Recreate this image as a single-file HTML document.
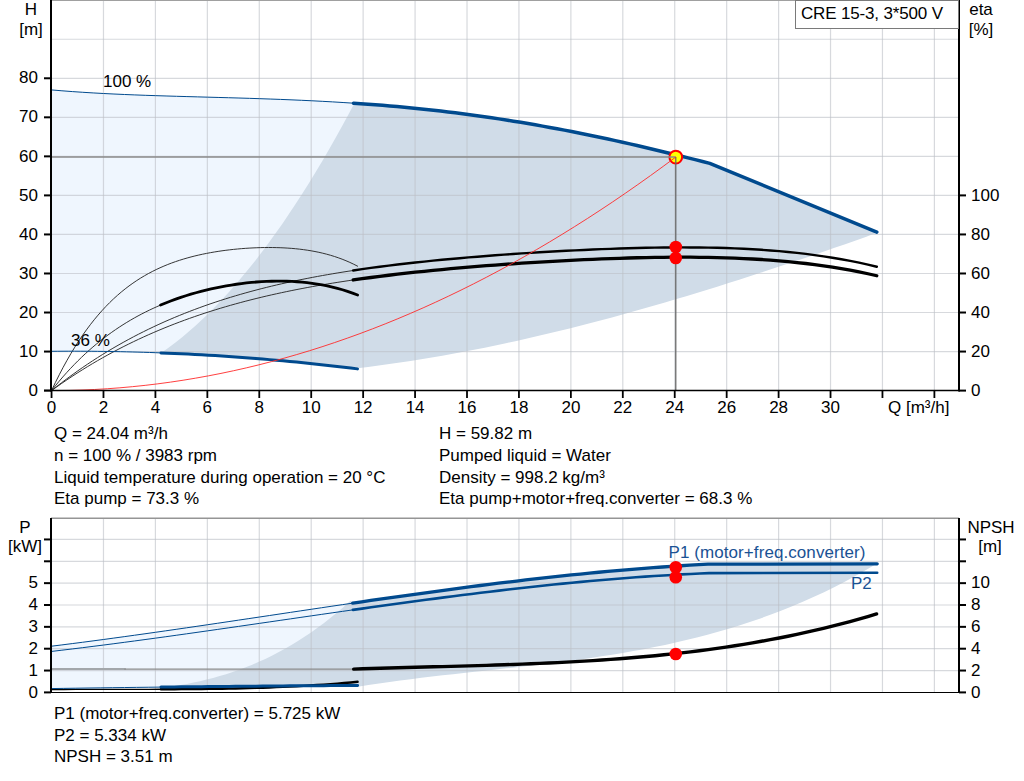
<!DOCTYPE html>
<html><head><meta charset="utf-8"><style>
html,body{margin:0;padding:0;background:#fff;width:1024px;height:781px;overflow:hidden;position:relative}
svg text{font-family:"Liberation Sans",sans-serif}
</style></head><body>
<svg width="1024" height="781" viewBox="0 0 1024 781" style="position:absolute;left:0;top:0"><path d="M51.50,89.91 L61.91,90.79 L72.33,91.58 L82.74,92.29 L93.16,92.93 L103.57,93.50 L113.98,94.02 L124.40,94.49 L134.81,94.91 L145.22,95.30 L155.64,95.65 L166.05,95.98 L176.47,96.29 L186.88,96.59 L197.29,96.87 L207.71,97.16 L218.12,97.44 L228.53,97.73 L238.95,98.03 L249.36,98.34 L259.78,98.68 L270.19,99.04 L280.60,99.42 L291.02,99.84 L301.43,100.29 L311.84,100.78 L322.26,101.32 L332.67,101.89 L343.09,102.52 L353.50,103.19 L357.50,368.87 L349.65,367.91 L341.81,366.97 L333.96,366.07 L326.12,365.19 L318.27,364.33 L310.42,363.51 L302.58,362.71 L294.73,361.94 L286.88,361.19 L279.04,360.47 L271.19,359.78 L263.35,359.11 L255.50,358.48 L247.65,357.86 L239.81,357.28 L231.96,356.72 L224.12,356.19 L216.27,355.69 L208.42,355.21 L200.58,354.76 L192.73,354.34 L184.88,353.94 L177.04,353.57 L169.19,353.23 L161.35,352.91 L153.50,352.62 L145.65,352.36 L137.81,352.12 L129.96,351.91 L122.12,351.73 L114.27,351.58 L106.42,351.45 L98.58,351.35 L90.73,351.27 L82.88,351.23 L75.04,351.21 L67.19,351.21 L59.35,351.24 L51.50,351.30 Z" fill="#eff6fe"/><path d="M353.50,103.19 L360.77,103.69 L368.04,104.22 L375.31,104.78 L382.59,105.36 L389.86,105.97 L397.13,106.61 L404.40,107.28 L411.67,107.98 L418.94,108.72 L426.21,109.48 L433.49,110.27 L440.76,111.10 L448.03,111.96 L455.30,112.85 L462.57,113.77 L469.84,114.73 L477.11,115.71 L484.39,116.74 L491.66,117.79 L498.93,118.88 L506.20,120.00 L513.47,121.16 L520.74,122.34 L528.01,123.56 L535.29,124.82 L542.56,126.10 L549.83,127.42 L557.10,128.77 L564.37,130.15 L571.64,131.56 L578.91,133.00 L586.19,134.47 L593.46,135.98 L600.73,137.51 L608.00,139.06 L615.27,140.65 L622.54,142.26 L629.81,143.90 L637.09,145.56 L644.36,147.25 L651.63,148.96 L658.90,150.69 L666.17,152.45 L673.44,154.22 L680.71,156.02 L687.99,157.83 L695.26,159.66 L702.53,161.50 L709.80,163.36 L876.80,232.20 L877.00,232.50 L866.40,236.77 L855.80,240.49 L845.19,244.19 L834.59,247.86 L823.99,251.51 L813.39,255.13 L802.79,258.73 L792.18,262.30 L781.58,265.84 L770.98,269.35 L760.38,272.82 L749.78,276.26 L739.17,279.67 L728.57,283.04 L717.97,286.38 L707.37,289.67 L696.77,292.93 L686.16,296.14 L675.56,299.32 L664.96,302.44 L654.36,305.53 L643.76,308.56 L633.15,311.55 L622.55,314.49 L611.95,317.38 L601.35,320.21 L590.74,323.00 L580.14,325.73 L569.54,328.40 L558.94,331.02 L548.34,333.58 L537.73,336.08 L527.13,338.52 L516.53,340.90 L505.93,343.21 L495.33,345.46 L484.72,347.64 L474.12,349.76 L463.52,351.80 L452.92,353.78 L442.32,355.68 L431.71,357.52 L421.11,359.28 L410.51,360.96 L399.91,362.57 L389.31,364.10 L378.70,365.55 L368.10,366.92 L357.50,368.21 L357.50,368.87 L347.22,367.61 L336.94,366.41 L326.66,365.25 L316.38,364.13 L306.10,363.06 L295.82,362.04 L285.53,361.06 L275.25,360.13 L264.97,359.25 L254.69,358.41 L244.41,357.62 L234.13,356.87 L223.85,356.17 L213.57,355.52 L203.29,354.91 L193.01,354.35 L182.73,353.83 L172.45,353.37 L162.17,352.94 L162.17,352.27 L168.83,347.52 L175.49,342.48 L182.15,337.17 L188.81,331.58 L195.47,325.71 L202.13,319.57 L208.80,313.14 L215.46,306.44 L222.12,299.46 L228.78,292.20 L235.44,284.67 L242.10,276.85 L248.77,268.76 L255.43,260.39 L262.09,251.74 L268.75,242.82 L275.41,233.61 L282.07,224.13 L288.74,214.37 L295.40,204.33 L302.06,194.02 L308.72,183.42 L315.38,172.55 L322.04,161.40 L328.71,149.97 L335.37,138.27 L342.03,126.28 L348.69,114.02 L355.35,101.48 Z" fill="#d0dce8"/><g stroke="rgba(188,192,198,0.6)" stroke-width="1.2"><line x1="103.48" y1="0" x2="103.48" y2="390" /><line x1="155.41" y1="0" x2="155.41" y2="390" /><line x1="207.35" y1="0" x2="207.35" y2="390" /><line x1="259.28" y1="0" x2="259.28" y2="390" /><line x1="311.21" y1="0" x2="311.21" y2="390" /><line x1="363.14" y1="0" x2="363.14" y2="390" /><line x1="415.07" y1="0" x2="415.07" y2="390" /><line x1="467.01" y1="0" x2="467.01" y2="390" /><line x1="518.94" y1="0" x2="518.94" y2="390" /><line x1="570.87" y1="0" x2="570.87" y2="390" /><line x1="622.80" y1="0" x2="622.80" y2="390" /><line x1="674.73" y1="0" x2="674.73" y2="390" /><line x1="726.67" y1="0" x2="726.67" y2="390" /><line x1="778.60" y1="0" x2="778.60" y2="390" /><line x1="830.53" y1="0" x2="830.53" y2="390" /><line x1="882.46" y1="0" x2="882.46" y2="390" /><line x1="934.39" y1="0" x2="934.39" y2="390" /><line x1="51" y1="351.56" x2="958" y2="351.56" /><line x1="51" y1="312.52" x2="958" y2="312.52" /><line x1="51" y1="273.48" x2="958" y2="273.48" /><line x1="51" y1="234.44" x2="958" y2="234.44" /><line x1="51" y1="195.40" x2="958" y2="195.40" /><line x1="51" y1="156.36" x2="958" y2="156.36" /><line x1="51" y1="117.32" x2="958" y2="117.32" /><line x1="51" y1="78.28" x2="958" y2="78.28" /><line x1="51" y1="39.24" x2="958" y2="39.24" /></g><line x1="51" y1="0.5" x2="959" y2="0.5" stroke="#a0a0a0" stroke-width="1"/><g fill="none" stroke-linecap="round" stroke-linejoin="round"><path d="M51.55,390.60 L55.42,382.46 L59.30,374.69 L63.17,367.30 L67.05,360.25 L70.92,353.55 L74.79,347.18 L78.67,341.12 L82.54,335.36 L86.42,329.90 L90.29,324.72 L94.16,319.80 L98.04,315.15 L101.91,310.74 L105.79,306.56 L109.66,302.62 L113.53,298.89 L117.41,295.36 L121.28,292.04 L125.16,288.90 L129.03,285.94 L132.91,283.16 L136.78,280.54 L140.65,278.07 L144.53,275.75 L148.40,273.56 L152.28,271.52 L156.15,269.59 L160.02,267.79 L163.90,266.10 L167.77,264.51 L171.65,263.03 L175.52,261.64 L179.39,260.35 L183.27,259.13 L187.14,258.00 L191.02,256.95 L194.89,255.96 L198.76,255.05 L202.64,254.20 L206.51,253.41 L210.39,252.68 L214.26,252.00 L218.13,251.38 L222.01,250.81 L225.88,250.29 L229.76,249.82 L233.63,249.39 L237.50,249.00 L241.38,248.66 L245.25,248.37 L249.13,248.12 L253.00,247.91 L256.87,247.74 L260.75,247.62 L264.62,247.54 L268.50,247.51 L272.37,247.53 L276.24,247.60 L280.12,247.71 L283.99,247.88 L287.87,248.11 L291.74,248.39 L295.62,248.74 L299.49,249.15 L303.36,249.63 L307.24,250.18 L311.11,250.81 L314.99,251.52 L318.86,252.31 L322.73,253.20 L326.61,254.18 L330.48,255.26 L334.36,256.45 L338.23,257.75 L342.10,259.17 L345.98,260.72 L349.85,262.40 L353.73,264.22 L357.60,266.19" stroke="#2a2a2a" stroke-width="0.95"/><path d="M51.55,390.60 L55.31,385.89 L59.07,381.34 L62.83,376.95 L66.59,372.71 L70.35,368.63 L74.11,364.68 L77.87,360.88 L81.63,357.22 L85.39,353.68 L89.15,350.28 L92.91,346.99 L96.67,343.83 L100.43,340.78 L104.19,337.85 L107.96,335.02 L111.72,332.30 L115.48,329.68 L119.24,327.16 L123.00,324.73 L126.76,322.40 L130.52,320.15 L134.28,317.99 L138.04,315.91 L141.80,313.92 L145.56,312.00 L149.32,310.16 L153.08,308.39 L156.84,306.69 L160.60,305.06" stroke="#2a2a2a" stroke-width="0.95"/><path d="M51.55,390.60 L56.66,386.55 L61.78,382.60 L66.89,378.75 L72.00,375.00 L77.11,371.34 L82.23,367.78 L87.34,364.31 L92.45,360.93 L97.56,357.63 L102.68,354.42 L107.79,351.30 L112.90,348.26 L118.02,345.30 L123.13,342.42 L128.24,339.62 L133.35,336.89 L138.47,334.23 L143.58,331.65 L148.69,329.14 L153.80,326.70 L158.92,324.32 L164.03,322.01 L169.14,319.77 L174.26,317.59 L179.37,315.47 L184.48,313.41 L189.59,311.41 L194.71,309.46 L199.82,307.57 L204.93,305.73 L210.04,303.95 L215.16,302.22 L220.27,300.54 L225.38,298.91 L230.49,297.32 L235.61,295.78 L240.72,294.29 L245.83,292.83 L250.95,291.43 L256.06,290.06 L261.17,288.73 L266.28,287.44 L271.40,286.19 L276.51,284.98 L281.62,283.80 L286.73,282.66 L291.85,281.55 L296.96,280.47 L302.07,279.42 L307.19,278.41 L312.30,277.42 L317.41,276.46 L322.52,275.53 L327.64,274.63 L332.75,273.75 L337.86,272.90 L342.97,272.07 L348.09,271.27 L353.20,270.48" stroke="#2a2a2a" stroke-width="0.95"/><path d="M51.55,390.60 L56.66,386.93 L61.78,383.35 L66.89,379.86 L72.00,376.45 L77.11,373.13 L82.23,369.90 L87.34,366.74 L92.45,363.67 L97.56,360.67 L102.68,357.75 L107.79,354.91 L112.90,352.14 L118.02,349.44 L123.13,346.81 L128.24,344.25 L133.35,341.75 L138.47,339.33 L143.58,336.96 L148.69,334.66 L153.80,332.43 L158.92,330.25 L164.03,328.13 L169.14,326.07 L174.26,324.06 L179.37,322.11 L184.48,320.21 L189.59,318.36 L194.71,316.57 L199.82,314.82 L204.93,313.12 L210.04,311.47 L215.16,309.87 L220.27,308.31 L225.38,306.79 L230.49,305.32 L235.61,303.88 L240.72,302.49 L245.83,301.14 L250.95,299.82 L256.06,298.54 L261.17,297.30 L266.28,296.09 L271.40,294.91 L276.51,293.77 L281.62,292.66 L286.73,291.58 L291.85,290.53 L296.96,289.51 L302.07,288.52 L307.19,287.56 L312.30,286.62 L317.41,285.70 L322.52,284.82 L327.64,283.95 L332.75,283.11 L337.86,282.30 L342.97,281.50 L348.09,280.73 L353.20,279.97" stroke="#2a2a2a" stroke-width="0.95"/><path d="M160.60,305.06 L165.65,302.97 L170.70,301.00 L175.75,299.14 L180.81,297.39 L185.86,295.73 L190.91,294.18 L195.96,292.72 L201.01,291.36 L206.06,290.09 L211.11,288.90 L216.16,287.80 L221.22,286.79 L226.27,285.86 L231.32,285.01 L236.37,284.25 L241.42,283.57 L246.47,282.97 L251.52,282.45 L256.57,282.01 L261.63,281.67 L266.68,281.40 L271.73,281.23 L276.78,281.14 L281.83,281.15 L286.88,281.25 L291.93,281.45 L296.98,281.75 L302.04,282.16 L307.09,282.67 L312.14,283.30 L317.19,284.05 L322.24,284.92 L327.29,285.92 L332.34,287.06 L337.39,288.34 L342.45,289.76 L347.50,291.34 L352.55,293.07 L357.60,294.98" stroke="#000" stroke-width="2.8"/><path d="M353.20,270.48 L362.07,269.18 L370.95,267.93 L379.82,266.75 L388.70,265.61 L397.57,264.53 L406.45,263.50 L415.32,262.52 L424.20,261.57 L433.07,260.67 L441.95,259.80 L450.82,258.97 L459.69,258.18 L468.57,257.41 L477.44,256.68 L486.32,255.97 L495.19,255.30 L504.07,254.65 L512.94,254.02 L521.82,253.42 L530.69,252.85 L539.57,252.30 L548.44,251.78 L557.32,251.28 L566.19,250.80 L575.06,250.35 L583.94,249.93 L592.81,249.53 L601.69,249.16 L610.56,248.83 L619.44,248.52 L628.31,248.25 L637.19,248.01 L646.06,247.81 L654.94,247.64 L663.81,247.52 L672.68,247.44 L681.56,247.41 L690.43,247.43 L699.31,247.50 L708.18,247.63 L717.06,247.82 L725.93,248.07 L734.81,248.39 L743.68,248.78 L752.56,249.25 L761.43,249.80 L770.31,250.44 L779.18,251.16 L788.05,251.98 L796.93,252.91 L805.80,253.93 L814.68,255.08 L823.55,256.33 L832.43,257.72 L841.30,259.23 L850.18,260.88 L859.05,262.67 L867.93,264.62 L876.80,266.72" stroke="#000" stroke-width="2.4"/><path d="M353.20,279.97 L362.07,278.71 L370.95,277.51 L379.82,276.35 L388.70,275.25 L397.57,274.20 L406.45,273.19 L415.32,272.22 L424.20,271.29 L433.07,270.40 L441.95,269.54 L450.82,268.72 L459.69,267.93 L468.57,267.16 L477.44,266.43 L486.32,265.73 L495.19,265.05 L504.07,264.40 L512.94,263.78 L521.82,263.18 L530.69,262.60 L539.57,262.05 L548.44,261.53 L557.32,261.03 L566.19,260.55 L575.06,260.10 L583.94,259.68 L592.81,259.29 L601.69,258.92 L610.56,258.59 L619.44,258.28 L628.31,258.01 L637.19,257.77 L646.06,257.57 L654.94,257.41 L663.81,257.29 L672.68,257.22 L681.56,257.19 L690.43,257.20 L699.31,257.28 L708.18,257.40 L717.06,257.59 L725.93,257.83 L734.81,258.15 L743.68,258.53 L752.56,258.99 L761.43,259.52 L770.31,260.14 L779.18,260.84 L788.05,261.63 L796.93,262.52 L805.80,263.51 L814.68,264.61 L823.55,265.82 L832.43,267.15 L841.30,268.60 L850.18,270.18 L859.05,271.90 L867.93,273.75 L876.80,275.76" stroke="#000" stroke-width="3.3"/></g><g fill="none" stroke="#004a8e" stroke-linecap="round" stroke-linejoin="round"><path d="M51.50,89.91 L61.91,90.79 L72.33,91.58 L82.74,92.29 L93.16,92.93 L103.57,93.50 L113.98,94.02 L124.40,94.49 L134.81,94.91 L145.22,95.30 L155.64,95.65 L166.05,95.98 L176.47,96.29 L186.88,96.59 L197.29,96.87 L207.71,97.16 L218.12,97.44 L228.53,97.73 L238.95,98.03 L249.36,98.34 L259.78,98.68 L270.19,99.04 L280.60,99.42 L291.02,99.84 L301.43,100.29 L311.84,100.78 L322.26,101.32 L332.67,101.89 L343.09,102.52 L353.50,103.19" stroke-width="1"/><path d="M353.50,103.19 L360.77,103.69 L368.04,104.22 L375.31,104.78 L382.59,105.36 L389.86,105.97 L397.13,106.61 L404.40,107.28 L411.67,107.98 L418.94,108.72 L426.21,109.48 L433.49,110.27 L440.76,111.10 L448.03,111.96 L455.30,112.85 L462.57,113.77 L469.84,114.73 L477.11,115.71 L484.39,116.74 L491.66,117.79 L498.93,118.88 L506.20,120.00 L513.47,121.16 L520.74,122.34 L528.01,123.56 L535.29,124.82 L542.56,126.10 L549.83,127.42 L557.10,128.77 L564.37,130.15 L571.64,131.56 L578.91,133.00 L586.19,134.47 L593.46,135.98 L600.73,137.51 L608.00,139.06 L615.27,140.65 L622.54,142.26 L629.81,143.90 L637.09,145.56 L644.36,147.25 L651.63,148.96 L658.90,150.69 L666.17,152.45 L673.44,154.22 L680.71,156.02 L687.99,157.83 L695.26,159.66 L702.53,161.50 L709.80,163.36 L876.80,232.20" stroke-width="3.5"/><path d="M51.50,351.30 L57.26,351.26 L63.03,351.23 L68.79,351.21 L74.55,351.20 L80.32,351.22 L86.08,351.24 L91.84,351.28 L97.61,351.34 L103.37,351.41 L109.13,351.49 L114.89,351.59 L120.66,351.70 L126.42,351.83 L132.18,351.97 L137.95,352.13 L143.71,352.30 L149.47,352.48 L155.24,352.68 L161.00,352.90" stroke-width="1"/><path d="M161.00,352.90 L167.78,353.17 L174.55,353.46 L181.33,353.77 L188.10,354.10 L194.88,354.45 L201.66,354.82 L208.43,355.21 L215.21,355.62 L221.98,356.05 L228.76,356.50 L235.53,356.97 L242.31,357.46 L249.09,357.97 L255.86,358.50 L262.64,359.05 L269.41,359.63 L276.19,360.22 L282.97,360.83 L289.74,361.46 L296.52,362.11 L303.29,362.78 L310.07,363.47 L316.84,364.18 L323.62,364.91 L330.40,365.66 L337.17,366.43 L343.95,367.22 L350.72,368.04 L357.50,368.87" stroke-width="3"/></g><circle cx="675.77" cy="157.06" r="6.4" fill="#ffff00" stroke="#ff0000" stroke-width="2"/><line x1="51" y1="157.06" x2="675.77" y2="157.06" stroke="#8a8a8a" stroke-width="1.4"/><line x1="675.77" y1="157.06" x2="675.77" y2="390" stroke="#6a6a6a" stroke-width="1.3"/><path d="M56.74,390.58 L69.38,390.41 L82.01,390.04 L94.64,389.49 L107.28,388.74 L119.91,387.80 L132.54,386.67 L145.18,385.35 L157.81,383.83 L170.44,382.13 L183.08,380.23 L195.71,378.14 L208.34,375.87 L220.98,373.40 L233.61,370.73 L246.24,367.88 L258.88,364.84 L271.51,361.60 L284.14,358.18 L296.78,354.56 L309.41,350.75 L322.04,346.75 L334.67,342.56 L347.31,338.17 L359.94,333.60 L372.57,328.83 L385.21,323.88 L397.84,318.73 L410.47,313.39 L423.11,307.86 L435.74,302.14 L448.37,296.22 L461.01,290.12 L473.64,283.82 L486.27,277.33 L498.91,270.65 L511.54,263.78 L524.17,256.72 L536.81,249.47 L549.44,242.03 L562.07,234.39 L574.71,226.56 L587.34,218.55 L599.97,210.34 L612.61,201.94 L625.24,193.34 L637.87,184.56 L650.51,175.59 L663.14,166.42 L675.77,157.06" fill="none" stroke="#ff2a2a" stroke-width="0.9"/><circle cx="675.77" cy="247" r="6.3" fill="#ff0000"/><circle cx="675.77" cy="258" r="6.3" fill="#ff0000"/><g stroke="#000"><line x1="51" y1="0" x2="51" y2="391.5" stroke-width="2"/><line x1="959" y1="0" x2="959" y2="391.5" stroke-width="2"/><line x1="44" y1="390.5" x2="959" y2="390.5" stroke-width="1.7"/><line x1="44" y1="390.60" x2="51" y2="390.60" stroke-width="2"/><line x1="44" y1="351.56" x2="51" y2="351.56" stroke-width="2"/><line x1="44" y1="312.52" x2="51" y2="312.52" stroke-width="2"/><line x1="44" y1="273.48" x2="51" y2="273.48" stroke-width="2"/><line x1="44" y1="234.44" x2="51" y2="234.44" stroke-width="2"/><line x1="44" y1="195.40" x2="51" y2="195.40" stroke-width="2"/><line x1="44" y1="156.36" x2="51" y2="156.36" stroke-width="2"/><line x1="44" y1="117.32" x2="51" y2="117.32" stroke-width="2"/><line x1="44" y1="78.28" x2="51" y2="78.28" stroke-width="2"/><line x1="959" y1="390.60" x2="966" y2="390.60" stroke-width="2"/><line x1="959" y1="351.56" x2="966" y2="351.56" stroke-width="2"/><line x1="959" y1="312.52" x2="966" y2="312.52" stroke-width="2"/><line x1="959" y1="273.48" x2="966" y2="273.48" stroke-width="2"/><line x1="959" y1="234.44" x2="966" y2="234.44" stroke-width="2"/><line x1="959" y1="195.40" x2="966" y2="195.40" stroke-width="2"/><line x1="51.55" y1="390" x2="51.55" y2="398" stroke-width="1.8"/><line x1="103.48" y1="390" x2="103.48" y2="398" stroke-width="1.8"/><line x1="155.41" y1="390" x2="155.41" y2="398" stroke-width="1.8"/><line x1="207.35" y1="390" x2="207.35" y2="398" stroke-width="1.8"/><line x1="259.28" y1="390" x2="259.28" y2="398" stroke-width="1.8"/><line x1="311.21" y1="390" x2="311.21" y2="398" stroke-width="1.8"/><line x1="363.14" y1="390" x2="363.14" y2="398" stroke-width="1.8"/><line x1="415.07" y1="390" x2="415.07" y2="398" stroke-width="1.8"/><line x1="467.01" y1="390" x2="467.01" y2="398" stroke-width="1.8"/><line x1="518.94" y1="390" x2="518.94" y2="398" stroke-width="1.8"/><line x1="570.87" y1="390" x2="570.87" y2="398" stroke-width="1.8"/><line x1="622.80" y1="390" x2="622.80" y2="398" stroke-width="1.8"/><line x1="674.73" y1="390" x2="674.73" y2="398" stroke-width="1.8"/><line x1="726.67" y1="390" x2="726.67" y2="398" stroke-width="1.8"/><line x1="778.60" y1="390" x2="778.60" y2="398" stroke-width="1.8"/><line x1="830.53" y1="390" x2="830.53" y2="398" stroke-width="1.8"/><line x1="882.46" y1="390" x2="882.46" y2="398" stroke-width="1.8"/><line x1="934.39" y1="390" x2="934.39" y2="398" stroke-width="1.8"/></g><rect x="795.5" y="0.5" width="163" height="28" fill="#fff" stroke="#7a7a7a" stroke-width="1"/><path d="M51.50,646.20 L61.89,644.91 L72.27,643.59 L82.66,642.25 L93.04,640.88 L103.43,639.50 L113.82,638.09 L124.20,636.67 L134.59,635.23 L144.98,633.77 L155.36,632.30 L165.75,630.82 L176.13,629.32 L186.52,627.82 L196.91,626.30 L207.29,624.77 L217.68,623.24 L228.07,621.70 L238.45,620.15 L248.84,618.60 L259.22,617.05 L269.61,615.50 L280.00,613.94 L290.38,612.39 L300.77,610.84 L311.16,609.29 L321.54,607.74 L331.93,606.20 L342.31,604.67 L352.70,603.14 L357.60,685.44 L341.49,685.52 L325.38,685.62 L309.27,685.72 L293.16,685.84 L277.05,685.96 L260.94,686.09 L244.83,686.23 L228.72,686.38 L212.61,686.53 L196.49,686.70 L180.38,686.87 L164.27,687.05 L148.16,687.24 L132.05,687.44 L115.94,687.65 L99.83,687.87 L83.72,688.09 L67.61,688.33 L51.50,688.57 Z" fill="#eff6fe"/><path d="M352.70,603.14 L361.81,601.81 L370.92,600.49 L380.03,599.18 L389.14,597.87 L398.25,596.58 L407.36,595.29 L416.47,594.02 L425.58,592.76 L434.69,591.51 L443.80,590.28 L452.91,589.06 L462.02,587.86 L471.13,586.67 L480.24,585.51 L489.35,584.36 L498.46,583.22 L507.57,582.11 L516.68,581.02 L525.79,579.95 L534.91,578.90 L544.02,577.87 L553.13,576.87 L562.24,575.89 L571.35,574.94 L580.46,574.02 L589.57,573.12 L598.68,572.24 L607.79,571.40 L616.90,570.58 L626.01,569.80 L635.12,569.05 L644.23,568.32 L653.34,567.63 L662.45,566.98 L671.56,566.35 L680.67,565.77 L689.78,565.21 L698.89,564.70 L708.00,564.22 L877.20,563.80 L877.00,563.55 L866.40,569.80 L855.81,575.78 L845.21,581.49 L834.62,586.94 L824.02,592.14 L813.42,597.09 L802.83,601.80 L792.23,606.28 L781.64,610.54 L771.04,614.58 L760.44,618.42 L749.85,622.06 L739.25,625.50 L728.66,628.76 L718.06,631.85 L707.47,634.76 L696.87,637.52 L686.27,640.12 L675.68,642.57 L665.08,644.89 L654.49,647.08 L643.89,649.14 L633.29,651.09 L622.70,652.93 L612.10,654.68 L601.51,656.33 L590.91,657.89 L580.31,659.39 L569.72,660.81 L559.12,662.17 L548.53,663.48 L537.93,664.74 L527.33,665.97 L516.74,667.17 L506.14,668.34 L495.55,669.50 L484.95,670.65 L474.36,671.80 L463.76,672.97 L453.16,674.14 L442.57,675.35 L431.97,676.58 L421.38,677.85 L410.78,679.17 L400.18,680.55 L389.59,681.99 L378.99,683.50 L368.40,685.08 L357.80,686.75 L357.80,685.43 L347.44,685.49 L337.08,685.55 L326.73,685.61 L316.37,685.68 L306.01,685.75 L295.65,685.82 L285.29,685.90 L274.94,685.98 L264.58,686.06 L254.22,686.15 L243.86,686.24 L233.51,686.33 L223.15,686.43 L212.79,686.53 L202.43,686.64 L192.07,686.74 L181.72,686.86 L171.36,686.97 L161.00,687.09 L160.87,687.92 L167.39,687.06 L173.92,686.11 L180.45,685.05 L186.98,683.88 L193.50,682.58 L200.03,681.16 L206.56,679.62 L213.09,677.93 L219.61,676.11 L226.14,674.13 L232.67,672.01 L239.19,669.72 L245.72,667.27 L252.25,664.65 L258.78,661.86 L265.30,658.88 L271.83,655.71 L278.36,652.36 L284.89,648.80 L291.41,645.03 L297.94,641.06 L304.47,636.87 L311.00,632.46 L317.52,627.82 L324.05,622.95 L330.58,617.84 L337.10,612.48 L343.63,606.88 L350.16,601.01 L353.00,601.90 Z" fill="#d0dce8"/><g stroke="rgba(188,192,198,0.6)" stroke-width="1.2"><line x1="103.48" y1="518" x2="103.48" y2="692" /><line x1="155.41" y1="518" x2="155.41" y2="692" /><line x1="207.35" y1="518" x2="207.35" y2="692" /><line x1="259.28" y1="518" x2="259.28" y2="692" /><line x1="311.21" y1="518" x2="311.21" y2="692" /><line x1="363.14" y1="518" x2="363.14" y2="692" /><line x1="415.07" y1="518" x2="415.07" y2="692" /><line x1="467.01" y1="518" x2="467.01" y2="692" /><line x1="518.94" y1="518" x2="518.94" y2="692" /><line x1="570.87" y1="518" x2="570.87" y2="692" /><line x1="622.80" y1="518" x2="622.80" y2="692" /><line x1="674.73" y1="518" x2="674.73" y2="692" /><line x1="726.67" y1="518" x2="726.67" y2="692" /><line x1="778.60" y1="518" x2="778.60" y2="692" /><line x1="830.53" y1="518" x2="830.53" y2="692" /><line x1="882.46" y1="518" x2="882.46" y2="692" /><line x1="934.39" y1="518" x2="934.39" y2="692" /><line x1="51" y1="670.55" x2="958" y2="670.55" /><line x1="51" y1="648.70" x2="958" y2="648.70" /><line x1="51" y1="626.85" x2="958" y2="626.85" /><line x1="51" y1="605.00" x2="958" y2="605.00" /><line x1="51" y1="583.15" x2="958" y2="583.15" /><line x1="51" y1="561.30" x2="958" y2="561.30" /><line x1="51" y1="539.45" x2="958" y2="539.45" /></g><line x1="51" y1="518.2" x2="959" y2="518.2" stroke="#959595" stroke-width="1.5"/><g fill="none" stroke-linecap="round" stroke-linejoin="round"><path d="M51,668.9 L125,668.9" stroke="#a3a7ab" stroke-width="2"/><path d="M125,669.2 L353.7,669.2" stroke="#8a8a8a" stroke-width="1.3"/><path d="M353.70,669.08 L362.56,668.79 L371.43,668.51 L380.29,668.25 L389.15,668.00 L398.01,667.75 L406.88,667.52 L415.74,667.28 L424.60,667.05 L433.46,666.82 L442.33,666.59 L451.19,666.36 L460.05,666.12 L468.92,665.87 L477.78,665.61 L486.64,665.35 L495.50,665.07 L504.37,664.77 L513.23,664.46 L522.09,664.14 L530.95,663.79 L539.82,663.42 L548.68,663.02 L557.54,662.60 L566.41,662.15 L575.27,661.67 L584.13,661.16 L592.99,660.61 L601.86,660.03 L610.72,659.41 L619.58,658.75 L628.44,658.05 L637.31,657.31 L646.17,656.52 L655.03,655.69 L663.89,654.80 L672.76,653.87 L681.62,652.88 L690.48,651.84 L699.35,650.74 L708.21,649.58 L717.07,648.36 L725.93,647.08 L734.80,645.74 L743.66,644.32 L752.52,642.84 L761.38,641.29 L770.25,639.67 L779.11,637.98 L787.97,636.21 L796.84,634.36 L805.70,632.43 L814.56,630.42 L823.42,628.32 L832.29,626.14 L841.15,623.88 L850.01,621.52 L858.87,619.07 L867.74,616.53 L876.60,613.90" stroke="#000" stroke-width="3.4"/><path d="M51.50,689.60 L63.67,689.50 L75.83,689.43 L88.00,689.39 L100.17,689.36 L112.33,689.34 L124.50,689.33 L136.67,689.32 L148.83,689.30 L161.00,689.27" stroke="#000" stroke-width="1.3"/><path d="M161.00,689.27 L167.78,689.25 L174.56,689.21 L181.34,689.17 L188.12,689.13 L194.90,689.07 L201.68,689.00 L208.46,688.91 L215.23,688.82 L222.01,688.71 L228.79,688.58 L235.57,688.44 L242.35,688.28 L249.13,688.10 L255.91,687.90 L262.69,687.68 L269.47,687.44 L276.25,687.17 L283.03,686.88 L289.81,686.57 L296.59,686.23 L303.37,685.86 L310.14,685.46 L316.92,685.04 L323.70,684.58 L330.48,684.10 L337.26,683.58 L344.04,683.02 L350.82,682.43 L357.60,681.81" stroke="#000" stroke-width="2.4"/><path d="M51.50,688.57 L63.67,688.39 L75.83,688.21 L88.00,688.03 L100.17,687.86 L112.33,687.70 L124.50,687.54 L136.67,687.39 L148.83,687.24 L161.00,687.09" stroke="#004a8e" stroke-width="1"/><path d="M161.00,687.09 L167.78,687.01 L174.56,686.94 L181.34,686.86 L188.12,686.79 L194.90,686.71 L201.68,686.64 L208.46,686.57 L215.23,686.51 L222.01,686.44 L228.79,686.38 L235.57,686.31 L242.35,686.25 L249.13,686.19 L255.91,686.13 L262.69,686.07 L269.47,686.02 L276.25,685.97 L283.03,685.91 L289.81,685.86 L296.59,685.81 L303.37,685.76 L310.14,685.72 L316.92,685.67 L323.70,685.63 L330.48,685.59 L337.26,685.55 L344.04,685.51 L350.82,685.47 L357.60,685.44" stroke="#004a8e" stroke-width="3"/><path d="M51.50,646.20 L61.89,644.91 L72.27,643.59 L82.66,642.25 L93.04,640.88 L103.43,639.50 L113.82,638.09 L124.20,636.67 L134.59,635.23 L144.98,633.77 L155.36,632.30 L165.75,630.82 L176.13,629.32 L186.52,627.82 L196.91,626.30 L207.29,624.77 L217.68,623.24 L228.07,621.70 L238.45,620.15 L248.84,618.60 L259.22,617.05 L269.61,615.50 L280.00,613.94 L290.38,612.39 L300.77,610.84 L311.16,609.29 L321.54,607.74 L331.93,606.20 L342.31,604.67 L352.70,603.14" stroke="#004a8e" stroke-width="1"/><path d="M51.50,651.43 L61.89,650.20 L72.29,648.95 L82.68,647.67 L93.07,646.37 L103.47,645.05 L113.86,643.71 L124.25,642.34 L134.64,640.96 L145.04,639.56 L155.43,638.15 L165.82,636.72 L176.22,635.27 L186.61,633.82 L197.00,632.35 L207.40,630.87 L217.79,629.39 L228.18,627.90 L238.58,626.40 L248.97,624.89 L259.36,623.39 L269.76,621.88 L280.15,620.37 L290.54,618.86 L300.93,617.35 L311.33,615.85 L321.72,614.35 L332.11,612.85 L342.51,611.36 L352.90,609.88" stroke="#004a8e" stroke-width="1"/><path d="M352.70,603.14 L361.81,601.81 L370.92,600.49 L380.03,599.18 L389.14,597.87 L398.25,596.58 L407.36,595.29 L416.47,594.02 L425.58,592.76 L434.69,591.51 L443.80,590.28 L452.91,589.06 L462.02,587.86 L471.13,586.67 L480.24,585.51 L489.35,584.36 L498.46,583.22 L507.57,582.11 L516.68,581.02 L525.79,579.95 L534.91,578.90 L544.02,577.87 L553.13,576.87 L562.24,575.89 L571.35,574.94 L580.46,574.02 L589.57,573.12 L598.68,572.24 L607.79,571.40 L616.90,570.58 L626.01,569.80 L635.12,569.05 L644.23,568.32 L653.34,567.63 L662.45,566.98 L671.56,566.35 L680.67,565.77 L689.78,565.21 L698.89,564.70 L708.00,564.22 L877.20,563.80" stroke="#004a8e" stroke-width="3.3"/><path d="M352.90,609.88 L362.03,608.59 L371.16,607.31 L380.29,606.03 L389.42,604.76 L398.55,603.51 L407.68,602.26 L416.82,601.03 L425.95,599.81 L435.08,598.60 L444.21,597.41 L453.34,596.23 L462.47,595.08 L471.60,593.93 L480.73,592.81 L489.86,591.71 L498.99,590.62 L508.12,589.56 L517.25,588.51 L526.38,587.49 L535.52,586.50 L544.65,585.53 L553.78,584.58 L562.91,583.66 L572.04,582.76 L581.17,581.89 L590.30,581.06 L599.43,580.25 L608.56,579.47 L617.69,578.72 L626.82,578.00 L635.95,577.32 L645.08,576.67 L654.22,576.05 L663.35,575.47 L672.48,574.93 L681.61,574.42 L690.74,573.95 L699.87,573.52 L709.00,573.13 L877.20,572.70" stroke="#004a8e" stroke-width="2.6"/></g><circle cx="675.77" cy="567.2" r="6.3" fill="#ff0000"/><circle cx="675.77" cy="577.2" r="6.3" fill="#ff0000"/><circle cx="675.77" cy="654.05" r="6.3" fill="#ff0000"/><g stroke="#000"><line x1="51" y1="518" x2="51" y2="693" stroke-width="2"/><line x1="959" y1="518" x2="959" y2="693" stroke-width="2"/><line x1="44" y1="692.5" x2="959" y2="692.5" stroke-width="1.2"/><line x1="44" y1="692.40" x2="51" y2="692.40" stroke-width="2"/><line x1="959" y1="692.40" x2="966" y2="692.40" stroke-width="2"/><line x1="44" y1="670.55" x2="51" y2="670.55" stroke-width="2"/><line x1="959" y1="670.55" x2="966" y2="670.55" stroke-width="2"/><line x1="44" y1="648.70" x2="51" y2="648.70" stroke-width="2"/><line x1="959" y1="648.70" x2="966" y2="648.70" stroke-width="2"/><line x1="44" y1="626.85" x2="51" y2="626.85" stroke-width="2"/><line x1="959" y1="626.85" x2="966" y2="626.85" stroke-width="2"/><line x1="44" y1="605.00" x2="51" y2="605.00" stroke-width="2"/><line x1="959" y1="605.00" x2="966" y2="605.00" stroke-width="2"/><line x1="44" y1="583.15" x2="51" y2="583.15" stroke-width="2"/><line x1="959" y1="583.15" x2="966" y2="583.15" stroke-width="2"/><line x1="44" y1="561.30" x2="51" y2="561.30" stroke-width="2"/><line x1="959" y1="561.30" x2="966" y2="561.30" stroke-width="2"/><line x1="44" y1="539.45" x2="51" y2="539.45" stroke-width="2"/><line x1="959" y1="539.45" x2="966" y2="539.45" stroke-width="2"/></g><g font-family="Liberation Sans, sans-serif"><text x="31" y="15" text-anchor="middle" font-size="17" fill="#000">H</text><text x="31" y="35" text-anchor="middle" font-size="17" fill="#000">[m]</text><text x="981" y="15" text-anchor="middle" font-size="17" fill="#000">eta</text><text x="981" y="35" text-anchor="middle" font-size="17" fill="#000">[%]</text><text x="38" y="395.7" text-anchor="end" font-size="17" fill="#000">0</text><text x="38" y="356.7" text-anchor="end" font-size="17" fill="#000">10</text><text x="38" y="317.6" text-anchor="end" font-size="17" fill="#000">20</text><text x="38" y="278.6" text-anchor="end" font-size="17" fill="#000">30</text><text x="38" y="239.5" text-anchor="end" font-size="17" fill="#000">40</text><text x="38" y="200.5" text-anchor="end" font-size="17" fill="#000">50</text><text x="38" y="161.5" text-anchor="end" font-size="17" fill="#000">60</text><text x="38" y="122.4" text-anchor="end" font-size="17" fill="#000">70</text><text x="38" y="83.4" text-anchor="end" font-size="17" fill="#000">80</text><text x="971" y="395.7" text-anchor="start" font-size="17" fill="#000">0</text><text x="971" y="356.7" text-anchor="start" font-size="17" fill="#000">20</text><text x="971" y="317.6" text-anchor="start" font-size="17" fill="#000">40</text><text x="971" y="278.6" text-anchor="start" font-size="17" fill="#000">60</text><text x="971" y="239.5" text-anchor="start" font-size="17" fill="#000">80</text><text x="971" y="200.5" text-anchor="start" font-size="17" fill="#000">100</text><text x="51.5" y="413" text-anchor="middle" font-size="17" fill="#000">0</text><text x="103.5" y="413" text-anchor="middle" font-size="17" fill="#000">2</text><text x="155.4" y="413" text-anchor="middle" font-size="17" fill="#000">4</text><text x="207.3" y="413" text-anchor="middle" font-size="17" fill="#000">6</text><text x="259.3" y="413" text-anchor="middle" font-size="17" fill="#000">8</text><text x="311.2" y="413" text-anchor="middle" font-size="17" fill="#000">10</text><text x="363.1" y="413" text-anchor="middle" font-size="17" fill="#000">12</text><text x="415.1" y="413" text-anchor="middle" font-size="17" fill="#000">14</text><text x="467.0" y="413" text-anchor="middle" font-size="17" fill="#000">16</text><text x="518.9" y="413" text-anchor="middle" font-size="17" fill="#000">18</text><text x="570.9" y="413" text-anchor="middle" font-size="17" fill="#000">20</text><text x="622.8" y="413" text-anchor="middle" font-size="17" fill="#000">22</text><text x="674.7" y="413" text-anchor="middle" font-size="17" fill="#000">24</text><text x="726.7" y="413" text-anchor="middle" font-size="17" fill="#000">26</text><text x="778.6" y="413" text-anchor="middle" font-size="17" fill="#000">28</text><text x="830.5" y="413" text-anchor="middle" font-size="17" fill="#000">30</text><text x="888" y="413" text-anchor="start" font-size="17" fill="#000">Q [m³/h]</text><text x="801" y="19" text-anchor="start" font-size="17" fill="#000" textLength="142" lengthAdjust="spacing">CRE 15-3, 3*500 V</text><text x="103" y="87" text-anchor="start" font-size="17" fill="#000">100 %</text><text x="71" y="345.5" text-anchor="start" font-size="17" fill="#000">36 %</text><text x="54" y="439" text-anchor="start" font-size="17" fill="#000">Q = 24.04 m³/h</text><text x="54" y="461" text-anchor="start" font-size="17" fill="#000">n = 100 % / 3983 rpm</text><text x="54" y="482.5" text-anchor="start" font-size="17" fill="#000">Liquid temperature during operation = 20 °C</text><text x="54" y="504" text-anchor="start" font-size="17" fill="#000">Eta pump = 73.3 %</text><text x="439" y="439" text-anchor="start" font-size="17" fill="#000">H = 59.82 m</text><text x="439" y="461" text-anchor="start" font-size="17" fill="#000">Pumped liquid = Water</text><text x="439" y="482.5" text-anchor="start" font-size="17" fill="#000">Density = 998.2 kg/m³</text><text x="439" y="504" text-anchor="start" font-size="17" fill="#000">Eta pump+motor+freq.converter = 68.3 %</text><text x="25" y="533" text-anchor="middle" font-size="17" fill="#000">P</text><text x="25" y="551.7" text-anchor="middle" font-size="17" fill="#000">[kW]</text><text x="991" y="533" text-anchor="middle" font-size="17" fill="#000">NPSH</text><text x="990" y="552" text-anchor="middle" font-size="17" fill="#000">[m]</text><text x="38" y="697.5" text-anchor="end" font-size="17" fill="#000">0</text><text x="38" y="675.6" text-anchor="end" font-size="17" fill="#000">1</text><text x="38" y="653.8" text-anchor="end" font-size="17" fill="#000">2</text><text x="38" y="631.9" text-anchor="end" font-size="17" fill="#000">3</text><text x="38" y="610.1" text-anchor="end" font-size="17" fill="#000">4</text><text x="38" y="588.2" text-anchor="end" font-size="17" fill="#000">5</text><text x="971" y="697.5" text-anchor="start" font-size="17" fill="#000">0</text><text x="971" y="675.6" text-anchor="start" font-size="17" fill="#000">2</text><text x="971" y="653.8" text-anchor="start" font-size="17" fill="#000">4</text><text x="971" y="631.9" text-anchor="start" font-size="17" fill="#000">6</text><text x="971" y="610.1" text-anchor="start" font-size="17" fill="#000">8</text><text x="971" y="588.2" text-anchor="start" font-size="17" fill="#000">10</text><text x="668.5" y="557.5" text-anchor="start" font-size="17" fill="#1a5294" textLength="197" lengthAdjust="spacing">P1 (motor+freq.converter)</text><text x="851" y="588.5" text-anchor="start" font-size="17" fill="#1a5294">P2</text><text x="54" y="719" text-anchor="start" font-size="17" fill="#000">P1 (motor+freq.converter) = 5.725 kW</text><text x="54" y="740.5" text-anchor="start" font-size="17" fill="#000">P2 = 5.334 kW</text><text x="54" y="762" text-anchor="start" font-size="17" fill="#000">NPSH = 3.51 m</text></g></svg>
</body></html>
